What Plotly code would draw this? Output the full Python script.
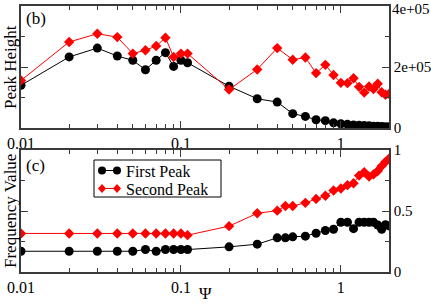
import plotly.graph_objects as go

# ---- data ----
psi_top = [0.01, 0.02, 0.03, 0.04, 0.05, 0.06, 0.07, 0.08, 0.09, 0.10, 0.11,
           0.2, 0.3, 0.4, 0.5, 0.6, 0.7, 0.8, 0.9, 1.0,
           1.1, 1.2, 1.3, 1.4, 1.5, 1.6, 1.7, 1.8, 1.9, 2.0]
height_first = [1.40e5, 2.33e5, 2.62e5, 2.36e5, 2.22e5, 1.91e5, 2.22e5, 2.47e5, 2.02e5, 2.22e5, 2.14e5,
                1.37e5, 0.96e5, 0.85e5, 0.47e5, 0.38e5, 0.27e5, 0.24e5, 0.17e5, 0.14e5,
                0.12e5, 0.10e5, 0.09e5, 0.08e5, 0.07e5, 0.06e5, 0.055e5, 0.05e5, 0.045e5, 0.04e5]
height_second = [1.56e5, 2.82e5, 3.09e5, 2.98e5, 2.44e5, 2.55e5, 2.69e5, 2.96e5, 2.33e5, 2.44e5, 2.44e5,
                 1.26e5, 1.92e5, 2.62e5, 2.24e5, 2.31e5, 1.80e5, 2.07e5, 1.74e5, 1.48e5,
                 1.47e5, 1.63e5, 1.35e5, 1.16e5, 1.36e5, 1.28e5, 1.45e5, 1.17e5, 1.09e5, 1.12e5]

psi_bot = [0.01, 0.02, 0.03, 0.04, 0.05, 0.06, 0.07, 0.08, 0.09, 0.10, 0.11,
           0.2, 0.3, 0.4, 0.45, 0.5, 0.6, 0.7, 0.8, 0.9, 1.0,
           1.1, 1.2, 1.3, 1.4, 1.5, 1.6, 1.7, 1.8, 1.9, 2.0]
freq_first = [0.170, 0.170, 0.170, 0.170, 0.170, 0.184, 0.170, 0.184, 0.184, 0.184, 0.184,
              0.206, 0.228, 0.280, 0.280, 0.288, 0.294, 0.318, 0.340, 0.350, 0.408,
              0.408, 0.355, 0.408, 0.408, 0.408, 0.408, 0.385, 0.350, 0.388, 0.378]
freq_second = [0.316, 0.316, 0.316, 0.316, 0.316, 0.316, 0.316, 0.316, 0.316, 0.316, 0.302,
               0.376, 0.481, 0.503, 0.541, 0.541, 0.567, 0.599, 0.625, 0.668, 0.685,
               0.712, 0.727, 0.790, 0.818, 0.782, 0.800, 0.828, 0.868, 0.903, 0.928]

series_names = ["First Peak", "Second Peak"]
series_colors = ["black", "red"]

x_ticks = [0.01, 0.1, 1]
x_ticktext = ["0.01", "0.1", "1"]
x_minor = [0.02, 0.03, 0.04, 0.05, 0.06, 0.07, 0.08, 0.09,
           0.2, 0.3, 0.4, 0.5, 0.6, 0.7, 0.8, 0.9, 2]
y1_ticks = [0, 2e5, 4e5]
y1_ticktext = ["0", "2e+05", "4e+05"]
y1_minor = [1e5, 3e5]
y2_ticks = [0, 0.5, 1]
y2_ticktext = ["0", "0.5", "1"]
y2_minor = [0.25, 0.75]

FONT = "Liberation Serif, Times New Roman, serif"
LINE = "#3a3a3a"

# pixel geometry helpers (plot area: x 21..389, y 6..272)
L, R, T, B = 21, 42, 6, 33
W, H = 431, 305
PW, PH = W - L - R, H - T - B
def px(x):
    return (x - L) / PW
def py(y):
    return (H - B - y) / PH

fig = go.Figure()
fig.add_trace(go.Scatter(x=psi_top, y=height_first, mode="lines+markers", name=series_names[0],
                         line=dict(color=series_colors[0], width=1),
                         marker=dict(symbol="circle", size=9, color=series_colors[0]),
                         xaxis="x", yaxis="y", showlegend=False))
fig.add_trace(go.Scatter(x=psi_top, y=height_second, mode="lines+markers", name=series_names[1],
                         line=dict(color=series_colors[1], width=1),
                         marker=dict(symbol="diamond", size=8, color=series_colors[1]),
                         xaxis="x", yaxis="y", showlegend=False))
fig.add_trace(go.Scatter(x=psi_bot, y=freq_first, mode="lines+markers", name=series_names[0],
                         line=dict(color=series_colors[0], width=1),
                         marker=dict(symbol="circle", size=9, color=series_colors[0]),
                         xaxis="x2", yaxis="y2", showlegend=False))
fig.add_trace(go.Scatter(x=psi_bot, y=freq_second, mode="lines+markers", name=series_names[1],
                         line=dict(color=series_colors[1], width=1),
                         marker=dict(symbol="diamond", size=8, color=series_colors[1]),
                         xaxis="x2", yaxis="y2", showlegend=False))

def xax(anchor):
    return dict(type="log", range=[-2, 0.30103], domain=[0, 1], anchor=anchor,
                showline=True, linecolor=LINE, linewidth=1.5, mirror="ticks",
                ticks="inside", ticklen=7, tickcolor=LINE, tickwidth=1,
                tickvals=x_ticks, ticktext=x_ticktext, showgrid=False, zeroline=False,
                tickfont=dict(family=FONT, size=16, color="black"),
                minor=dict(tickvals=x_minor, ticks="inside", ticklen=4, tickcolor=LINE, showgrid=False))

def yax(anchor, domain, rng, tv, tt, mv):
    return dict(domain=domain, range=rng, anchor=anchor, side="right",
                showline=True, linecolor=LINE, linewidth=1.5, mirror="ticks",
                ticks="inside", ticklen=7, tickcolor=LINE, tickwidth=1,
                tickvals=tv, ticktext=tt, showgrid=False, zeroline=False,
                ticklabeloverflow="allow",
                tickfont=dict(family=FONT, size=15, color="black"),
                minor=dict(tickvals=mv, ticks="inside", ticklen=4, tickcolor=LINE, showgrid=False))

# manual compact legend (box, sample lines, glyphs, labels)
shapes = [dict(type="rect", xref="paper", yref="paper",
               x0=px(94), x1=px(221), y0=py(197), y1=py(160),
               line=dict(color="black", width=1), fillcolor="white", layer="above")]
annotations = []
rows = [170.5, 188.5]
for i, (name, col) in enumerate(zip(series_names, series_colors)):
    yy = py(rows[i])
    shapes.append(dict(type="line", xref="paper", yref="paper", x0=px(102), x1=px(117), y0=yy, y1=yy,
                       line=dict(color=col, width=1), layer="above"))
    for xc in (102, 117):
        if i == 0:
            shapes.append(dict(type="circle", xref="paper", yref="paper", xsizemode="pixel", ysizemode="pixel",
                               xanchor=px(xc), yanchor=yy, x0=-4, x1=4, y0=-4, y1=4,
                               fillcolor=col, line=dict(color=col, width=0), layer="above"))
        else:
            shapes.append(dict(type="path", xref="paper", yref="paper", xsizemode="pixel", ysizemode="pixel",
                               xanchor=px(xc), yanchor=yy, path="M0,4.5 L4,0 L0,-4.5 L-4,0 Z",
                               fillcolor=col, line=dict(color=col, width=0), layer="above"))
    annotations.append(dict(text=name, x=px(124), y=yy, xref="paper", yref="paper",
                            xanchor="left", yanchor="middle", showarrow=False, height=16,
                            font=dict(family=FONT, size=16, color="black")))

annotations += [
    # top tick label of the upper panel, kept inside the page
    dict(text=y1_ticktext[-1], x=px(391), y=1.0, xref="paper", yref="paper",
         xanchor="left", yanchor="top", yshift=T, showarrow=False, borderpad=0,
         font=dict(family=FONT, size=15, color="black")),
    dict(text="(b)", x=px(24), y=py(18), xref="paper", yref="paper", xanchor="left", yanchor="middle",
         showarrow=False, font=dict(family=FONT, size=17)),
    dict(text="(c)", x=px(24), y=py(165), xref="paper", yref="paper", xanchor="left", yanchor="middle",
         showarrow=False, font=dict(family=FONT, size=17)),
    dict(text="Peak Height", x=px(10), y=py(67), xref="paper", yref="paper", textangle=-90,
         xanchor="center", yanchor="middle", showarrow=False, font=dict(family=FONT, size=17)),
    dict(text="Frequency Value", x=px(10), y=py(211), xref="paper", yref="paper", textangle=-90,
         xanchor="center", yanchor="middle", showarrow=False, font=dict(family=FONT, size=17)),
    dict(text="Ψ", x=px(205), y=py(293), xref="paper", yref="paper", xanchor="center", yanchor="middle",
         showarrow=False, font=dict(family=FONT, size=17)),
]

fig.update_layout(
    width=W, height=H,
    margin=dict(l=L, r=R, t=T, b=B, autoexpand=False),
    plot_bgcolor="white", paper_bgcolor="white",
    font=dict(family=FONT, size=16, color="black"),
    xaxis=xax("y"),
    xaxis2=xax("y2"),
    yaxis=yax("x", [py(128), 1.0], [0, 4e5], y1_ticks, y1_ticktext[:-1] + [""], y1_minor),
    yaxis2=yax("x2", [0, py(150)], [0, 1], y2_ticks, y2_ticktext, y2_minor),
    showlegend=False,
    shapes=shapes,
    annotations=annotations,
)

fig.write_html("out.html", config={"displayModeBar": False},
               post_script="document.body.style.margin='0';document.body.style.overflow='hidden';")
